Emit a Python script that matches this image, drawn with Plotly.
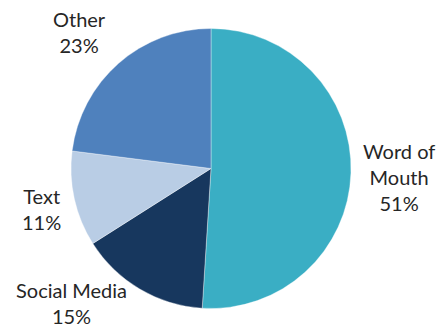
import plotly.graph_objects as go

# Share of responses by channel
channels = ["Word of Mouth", "Social Media", "Text", "Other"]
shares = [51, 15, 11, 23]
label_text = ["Word of<br>Mouth", "Social Media", "Text", "Other"]
colors = ["#3AAEC4", "#17375E", "#B9CDE5", "#4F81BD"]

W, H = 446, 327

# Label block centres in pixels (x from left, y from top)
label_pos = [(399, 177), (71, 303), (41, 209), (79, 32)]

fig = go.Figure(
    go.Pie(
        labels=channels,
        values=shares,
        sort=False,
        direction="clockwise",
        rotation=0,
        textinfo="none",
        hoverinfo="label+percent",
        marker=dict(colors=colors, line=dict(color="rgba(255,255,255,0.6)", width=0.6)),
        domain=dict(x=[71 / W, 351 / W], y=[1 - 308.5 / H, 1 - 28.5 / H]),
        showlegend=False,
    )
)

total = sum(shares)
for txt, v, (px, py) in zip(label_text, shares, label_pos):
    fig.add_annotation(
        x=px / W,
        y=1 - py / H,
        xref="paper",
        yref="paper",
        xanchor="center",
        yanchor="middle",
        text=f"{txt}<br>{round(100 * v / total)}%",
        showarrow=False,
        align="center",
        font=dict(family="Lato", size=20, color="#262626"),
    )

fig.update_layout(
    width=W,
    height=H,
    margin=dict(l=0, r=0, t=0, b=0),
    paper_bgcolor="white",
    plot_bgcolor="white",
)

fig.write_html("out.html")
